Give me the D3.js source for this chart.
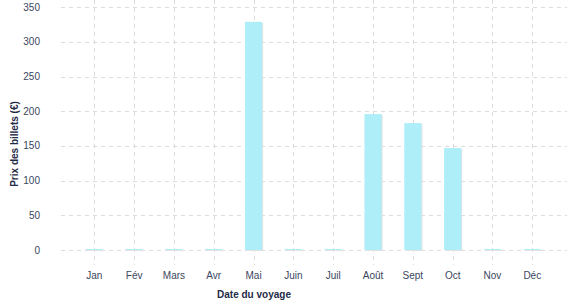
<!DOCTYPE html>
<html>
<head>
<meta charset="utf-8">
<script src="https://cdn.jsdelivr.net/npm/d3@7"></script>
<style>
  body { margin: 0; background: #fff; }
  text { font-family: "Liberation Sans", Arial, sans-serif; }
</style>
</head>
<body>
<svg id="svg"></svg>
<script>
// Chart data
const months = ["Jan", "Fév", "Mars", "Avr", "Mai", "Juin", "Juil", "Août", "Sept", "Oct", "Nov", "Déc"];
const prices = [0, 0, 0, 0, 329, 0, 0, 196, 183, 147, 0, 0];
const yTicks = [0, 50, 100, 150, 200, 250, 300, 350];

const width = 577;
const height = 300;

const svg = d3.select("#svg")
  .attr("width", width)
  .attr("height", height);

const x = d3.scaleBand()
  .domain(months)
  .range([74.4, 552.2])
  .paddingInner(0.57)
  .paddingOuter(0.285);

const y = d3.scaleLinear()
  .domain([0, 350])
  .range([250, 7.3]);

// Grid lines
svg.append("g")
  .selectAll("line")
  .data(yTicks)
  .enter()
  .append("line")
  .attr("x1", 61)
  .attr("x2", 567)
  .attr("y1", d => Math.round(y(d)) + 0.5)
  .attr("y2", d => Math.round(y(d)) + 0.5)
  .attr("stroke", "#dcdcdc")
  .attr("stroke-dasharray", "4,4");

svg.append("g")
  .selectAll("line")
  .data(months)
  .enter()
  .append("line")
  .attr("x1", d => Math.round(x(d) + x.bandwidth() / 2) + 0.5)
  .attr("x2", d => Math.round(x(d) + x.bandwidth() / 2) + 0.5)
  .attr("y1", 0)
  .attr("y2", 265)
  .attr("stroke", "#dcdcdc")
  .attr("stroke-dasharray", "4,4");

// Bars (with a light shadow), zero values get a thin stub
const barH = d => Math.max(y(0) - y(d), 1);

svg.append("g")
  .selectAll("rect")
  .data(prices)
  .enter()
  .append("rect")
  .attr("x", (d, i) => x(months[i]) + 1)
  .attr("y", d => y(0) - barH(d) + 1)
  .attr("width", x.bandwidth())
  .attr("height", d => barH(d))
  .attr("fill", "#e2e2e2");

svg.append("g")
  .selectAll("rect")
  .data(prices)
  .enter()
  .append("rect")
  .attr("x", (d, i) => x(months[i]))
  .attr("y", d => y(0) - barH(d))
  .attr("width", x.bandwidth())
  .attr("height", d => barH(d))
  .attr("fill", "#adeef8");

// Y tick labels
svg.append("g")
  .selectAll("text")
  .data(yTicks)
  .enter()
  .append("text")
  .attr("x", 40)
  .attr("y", d => y(d))
  .attr("dy", "0.35em")
  .attr("text-anchor", "end")
  .attr("font-size", 10)
  .attr("fill", "#3a4660")
  .text(d => d);

// X tick labels
svg.append("g")
  .selectAll("text")
  .data(months)
  .enter()
  .append("text")
  .attr("x", d => x(d) + x.bandwidth() / 2)
  .attr("y", 275)
  .attr("dy", "0.35em")
  .attr("text-anchor", "middle")
  .attr("font-size", 10)
  .attr("fill", "#3a4660")
  .text(d => d);

// Axis titles
svg.append("text")
  .attr("x", 254)
  .attr("y", 294)
  .attr("dy", "0.35em")
  .attr("text-anchor", "middle")
  .attr("font-size", 10)
  .attr("font-weight", "bold")
  .attr("fill", "#1f2b47")
  .text("Date du voyage");

svg.append("text")
  .attr("transform", "translate(14,144) rotate(-90)")
  .attr("dy", "0.35em")
  .attr("text-anchor", "middle")
  .attr("font-size", 10)
  .attr("font-weight", "bold")
  .attr("fill", "#1f2b47")
  .text("Prix des billets (€)");
</script>
</body>
</html>
